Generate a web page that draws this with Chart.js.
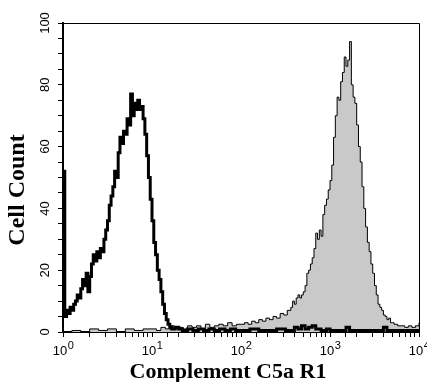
<!DOCTYPE html>
<html><head><meta charset="utf-8">
<script src="https://cdn.jsdelivr.net/npm/chart.js@4/dist/chart.umd.min.js"></script>
<style>html,body{margin:0;padding:0;background:#fff}#wrap{width:427px;height:382px}</style>
</head><body><div id="wrap"><canvas id="c" width="427" height="382"></canvas></div>
<script>
// Isotype control (open black histogram): log10 intensity, cell count
const isoLog = [0.00,0.02,0.04,0.06,0.08,0.10,0.12,0.14,0.16,0.18,0.20,0.22,0.24,0.26,0.28,0.30,0.32,0.34,0.36,0.38,0.40,0.42,0.44,0.46,0.48,0.50,0.52,0.54,0.56,0.58,0.60,0.62,0.64,0.66,0.68,0.70,0.72,0.74,0.76,0.78,0.80,0.82,0.84,0.86,0.88,0.90,0.92,0.94,0.96,0.98,1.00,1.02,1.04,1.06,1.08,1.10,1.12,1.14,1.16,1.18,1.20,1.22,1.26,1.30,1.34,1.40,1.46,1.52,1.58,1.64,1.70,1.76,1.82,1.88,1.94,2.00,2.10,2.20,2.30,2.40,2.50,2.60,2.64,2.68,2.72,2.76,2.80,2.84,2.90,2.96,3.00,3.10,3.18,3.22,3.30,3.40,3.50,3.60,3.64,3.70,3.80,3.90,4.00];
const isoCount = [52,5,7,6,8,7,9,10,12,11,14,17,15,19,13,18,22,25,23,26,24,27,26,30,33,36,41,44,47,52,50,58,63,61,65,64,69,67,77,70,74,72,75,72,73,69,64,57,50,43,36,29,25,20,17,13,9,6,4,2.5,1.5,1,1.5,1,0.5,1,0.5,1,0.5,1,0.5,1,0.5,1,0.5,0.5,1,0.5,0.5,1,0.5,1.5,1,2,1,1.5,2,1,0.5,1,0.5,0.5,1.5,0.5,0.5,0.5,0.5,1.5,0.5,0.5,0.5,0.5,0.5];
// Complement C5a R1 stained (grey filled histogram)
const c5aLog = [0.0,0.1,0.2,0.3,0.4,0.5,0.6,0.7,0.8,0.9,1.0,1.05,1.10,1.15,1.20,1.25,1.30,1.35,1.40,1.45,1.50,1.55,1.60,1.65,1.70,1.75,1.80,1.85,1.90,1.95,2.00,2.04,2.08,2.12,2.16,2.20,2.24,2.28,2.32,2.36,2.40,2.44,2.48,2.52,2.56,2.58,2.60,2.62,2.64,2.66,2.68,2.70,2.72,2.74,2.76,2.78,2.80,2.82,2.84,2.86,2.88,2.90,2.92,2.94,2.96,2.98,3.00,3.02,3.04,3.06,3.08,3.10,3.12,3.14,3.16,3.18,3.20,3.22,3.24,3.26,3.28,3.30,3.32,3.34,3.36,3.38,3.40,3.42,3.44,3.46,3.48,3.50,3.52,3.54,3.56,3.58,3.60,3.62,3.64,3.66,3.68,3.70,3.72,3.76,3.80,3.84,3.88,3.92,3.96,4.00];
const c5aCount = [0,0.5,0,1,0.5,1,0,1,0.5,1,1,0.5,1.5,1,2,1,1.5,1,2,1.5,2,1,2.5,1.5,2,2.5,2,3,2,2.5,2.5,3,2.5,3.5,3,4,3.5,4.5,4,5,4.5,6,5.5,7,8,10,9,11,12,11,12,13,15,19,20,22,24,27,32,30,33,31,38,41,43,46,49,54,63,70,76,75,81,84,89,86,88,94,80,76,74,67,60,55,47,40,34,29,26,22,19,15,12,9,8,7,5.5,5,4,4.5,3,3,2.5,2,2,1.5,2,1.5,2,3];
const yTickLabels = ['0','20','40','60','80','100'];
const xTickBase = '10';
const xTickExponents = ['0','1','2','3','4'];
const xTitle = 'Complement C5a R1';
const yTitle = 'Cell Count';

const toPts = (lg, v) => lg.map((l, i) => ({x: Math.pow(10, l), y: v[i]}));

const labelPlugin = {
  id: 'labels',
  afterDraw(chart) {
    const ctx = chart.ctx, a = chart.chartArea;
    const xs = chart.scales.x, ys = chart.scales.y;
    ctx.save();
    // frame top/right
    ctx.strokeStyle = '#000'; ctx.lineWidth = 1;
    ctx.beginPath();
    ctx.moveTo(a.left, a.top + 0.5); ctx.lineTo(a.right + 0.5, a.top + 0.5); ctx.lineTo(a.right + 0.5, a.bottom);
    ctx.stroke();
    ctx.fillStyle = '#000';
    // y tick labels rotated
    ctx.font = '13px "Liberation Sans", Arial, sans-serif';
    ctx.textAlign = 'center'; ctx.textBaseline = 'middle';
    yTickLabels.forEach(t => {
      const y = ys.getPixelForValue(Number(t));
      ctx.save(); ctx.translate(45, y); ctx.rotate(-Math.PI / 2);
      ctx.fillText(t, 0, 0); ctx.restore();
    });
    // x tick labels with superscripts
    ctx.textAlign = 'left'; ctx.textBaseline = 'alphabetic';
    xTickExponents.forEach(e => {
      const x = xs.getPixelForValue(Math.pow(10, Number(e)));
      ctx.font = '13px "Liberation Sans", Arial, sans-serif';
      const w1 = ctx.measureText(xTickBase).width;
      ctx.font = '11px "Liberation Sans", Arial, sans-serif';
      const w2 = ctx.measureText(e).width;
      const x0 = x - (w1 + w2) / 2;
      ctx.font = '13px "Liberation Sans", Arial, sans-serif';
      ctx.fillText(xTickBase, x0, 355);
      ctx.font = '11px "Liberation Sans", Arial, sans-serif';
      ctx.fillText(e, x0 + w1 + 0.5, 349);
    });
    // axis titles
    ctx.font = 'bold 22px "Liberation Serif", "Times New Roman", serif';
    ctx.textAlign = 'center';
    ctx.fillText(xTitle, 228, 378);
    ctx.font = 'bold 24px "Liberation Serif", "Times New Roman", serif';
    ctx.save(); ctx.translate(24, 190); ctx.rotate(-Math.PI / 2);
    ctx.fillText(yTitle, 0, 0); ctx.restore();
    ctx.restore();
  }
};

new Chart(document.getElementById('c'), {
  type: 'line',
  data: {
    datasets: [
      {
        label: 'Isotype', data: toPts(isoLog, isoCount), order: 0,
        borderColor: '#000', borderWidth: 3, stepped: true, pointRadius: 0, fill: false
      },
      {
        label: 'C5a R1', data: toPts(c5aLog, c5aCount), order: 1,
        borderColor: '#000', borderWidth: 1, backgroundColor: '#c9c9c9', stepped: true, pointRadius: 0, fill: 'origin'
      }
    ]
  },
  options: {
    responsive: false, animation: false,
    layout: { padding: { top: 23, right: 8, left: 0, bottom: 0 } },
    plugins: { legend: { display: false }, tooltip: { enabled: false } },
    scales: {
      x: {
        type: 'logarithmic', min: 1, max: 10000,
        border: { display: true, color: '#000', width: 2 },
        grid: { drawOnChartArea: false, drawTicks: true, tickLength: 5, color: '#000', tickWidth: 1 },
        ticks: { display: false, autoSkip: false },
        afterFit: s => { s.height = 50; }
      },
      y: {
        type: 'linear', min: 0, max: 100,
        border: { display: true, color: '#000', width: 2 },
        grid: { drawOnChartArea: false, drawTicks: true, tickLength: 5, color: '#000', tickWidth: 1 },
        ticks: { display: false, stepSize: 5, autoSkip: false },
        afterFit: s => { s.width = 63; }
      }
    }
  },
  plugins: [labelPlugin]
});
</script></body></html>
